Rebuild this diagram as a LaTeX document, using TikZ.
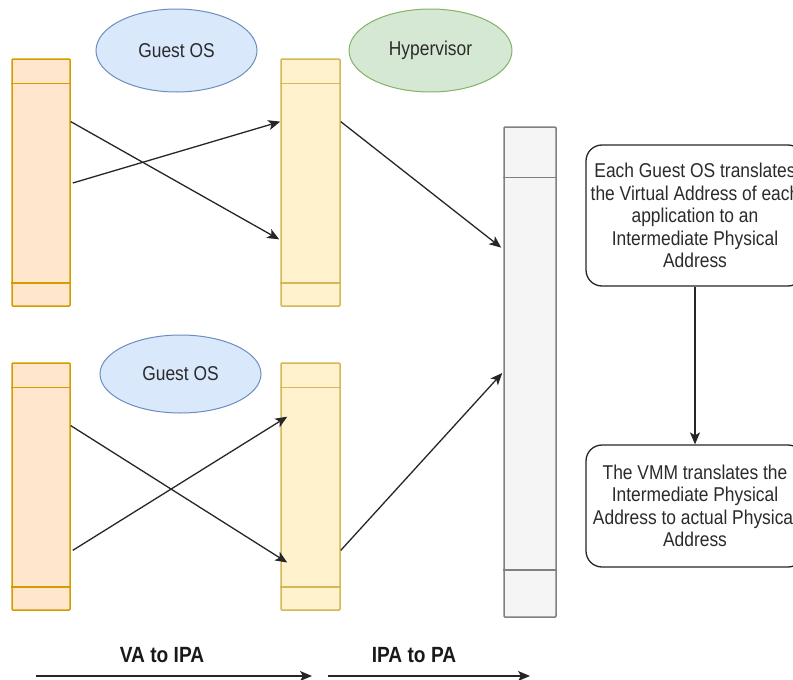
\documentclass[tikz,border=0pt]{standalone}
\usepackage{fontspec}
\setmainfont[FakeStretch=0.87]{Liberation Sans}
\usetikzlibrary{shapes.geometric,arrows.meta,calc}

\definecolor{vafill}{HTML}{FFE6CC}
\definecolor{vadraw}{HTML}{D79B00}
\definecolor{ipafill}{HTML}{FFF2CC}
\definecolor{ipadraw}{HTML}{D6B656}
\definecolor{pafill}{HTML}{F5F5F5}
\definecolor{padraw}{HTML}{808080}
\definecolor{osfill}{HTML}{DAE8FC}
\definecolor{osdraw}{HTML}{6C8EBF}
\definecolor{hvfill}{HTML}{D5E8D4}
\definecolor{hvdraw}{HTML}{82B366}
\definecolor{txt}{HTML}{2B2B2B}

\tikzset{
  column/.style={rectangle, inner sep=0pt, line width=1.5pt, rounded corners=1pt},
  vacol/.style={column, fill=vafill, draw=vadraw, minimum width=58pt, minimum height=247pt},
  ipacol/.style={column, fill=ipafill, draw=ipadraw, minimum width=59pt, minimum height=247pt},
  pacol/.style={column, fill=pafill, draw=padraw, minimum width=52pt, minimum height=490pt},
  bubble/.style={ellipse, inner sep=0pt, line width=1pt, text=txt,
    font=\fontsize{20}{22}\selectfont},
  osbubble/.style={bubble, fill=osfill, draw=osdraw},
  hvbubble/.style={bubble, fill=hvfill, draw=hvdraw},
  note/.style={rectangle, rounded corners=16pt, draw=black!85, line width=1.3pt,
    fill=white, text=txt, align=center, inner sep=0pt,
    minimum width=218pt, font=\fontsize{20}{22.5}\selectfont},
  conn/.style={line width=1.3pt, draw=black!85,
    -{Stealth[length=12pt,width=10pt,inset=3pt]}},
  phase/.style={font=\bfseries\fontsize{22}{24}\selectfont, text=black!90},
}

\begin{document}
\begin{tikzpicture}[x=1pt,y=-1pt]
  \useasboundingbox (0,0) rectangle (793,680);

  % address-space columns
  \node[vacol]  (va1)  at (41,182.5)  {};
  \node[ipacol] (ipa1) at (310.5,182.5) {};
  \node[vacol]  (va2)  at (41,486.5)  {};
  \node[ipacol] (ipa2) at (310.5,486.5) {};
  \node[pacol]  (pa)   at (530,372)   {};

  % header and footer bands inside each column
  \foreach \c in {ipa1,ipa2}{
    \draw[line width=1.5pt, draw=ipadraw]
      ($(\c.north west)+(0,25)$) -- ($(\c.north east)+(0,25)$)
      ($(\c.south west)+(0,-24)$) -- ($(\c.south east)+(0,-24)$);
  }
  \foreach \c in {va1,va2}{
    \draw[line width=1.5pt, draw=vadraw]
      ($(\c.north west)+(0,25)$) -- ($(\c.north east)+(0,25)$)
      ($(\c.south west)+(0,-24)$) -- ($(\c.south east)+(0,-24)$);
  }
  \draw[line width=1.5pt, draw=padraw]
    ($(pa.north west)+(0,51)$) -- ($(pa.north east)+(0,51)$)
    ($(pa.south west)+(0,-48)$) -- ($(pa.south east)+(0,-48)$);

  % translation agents
  \node[osbubble, minimum width=161pt, minimum height=83pt] (os1) at (176.5,50.5) {Guest OS};
  \node[osbubble, minimum width=161pt, minimum height=78pt] (os2) at (180.5,374) {Guest OS};
  \node[hvbubble, minimum width=163pt, minimum height=83pt] (hv) at (430.5,50.5) {Hypervisor};

  % VA -> IPA mappings, first guest
  \draw[conn] ($(va1.north east)!0.255!(va1.south east)$)
           -- ($(ipa1.north west)!0.729!(ipa1.south west)+(-1,0)$);
  \draw[conn] ($(va1.north east)!0.502!(va1.south east)+(2,0)$)
           -- ($(ipa1.north west)!0.255!(ipa1.south west)$);

  % VA -> IPA mappings, second guest
  \draw[conn] ($(va2.north east)!0.255!(va2.south east)$)
           -- ($(ipa2.north west)!0.806!(ipa2.south west)+(7,0)$);
  \draw[conn] ($(va2.north east)!0.757!(va2.south east)+(2,0)$)
           -- ($(ipa2.north west)!0.219!(ipa2.south west)+(7,0)$);

  % IPA -> PA mappings
  \draw[conn] ($(ipa1.north east)!0.255!(ipa1.south east)$)
           -- ($(pa.north west)!0.247!(pa.south west)+(-2,0)$);
  \draw[conn] ($(ipa2.north east)!0.757!(ipa2.south east)$)
           -- ($(pa.north west)!0.502!(pa.south west)+(-1,0)$);

  % explanatory notes
  \node[note, minimum height=141pt] (n1) at (695,215.5)
    {Each Guest OS translates\\the Virtual Address of each\\application to an\\Intermediate Physical\\Address};
  \node[note, minimum height=122pt] (n2) at (695,506)
    {The VMM translates the\\Intermediate Physical\\Address to actual Physical\\Address};
  \draw[conn] (n1) -- (n2);

  % translation stages
  \coordinate (s1) at (36,676);
  \coordinate (e1) at (312,676);
  \coordinate (s2) at (328,676);
  \coordinate (e2) at (530,676);
  \draw[conn] (s1) -- (e1);
  \draw[conn] (s2) -- (e2);
  \node[phase] (l1) at (162,655) {VA to IPA};
  \node[phase] (l2) at (414,655) {IPA to PA};
\end{tikzpicture}
\end{document}
